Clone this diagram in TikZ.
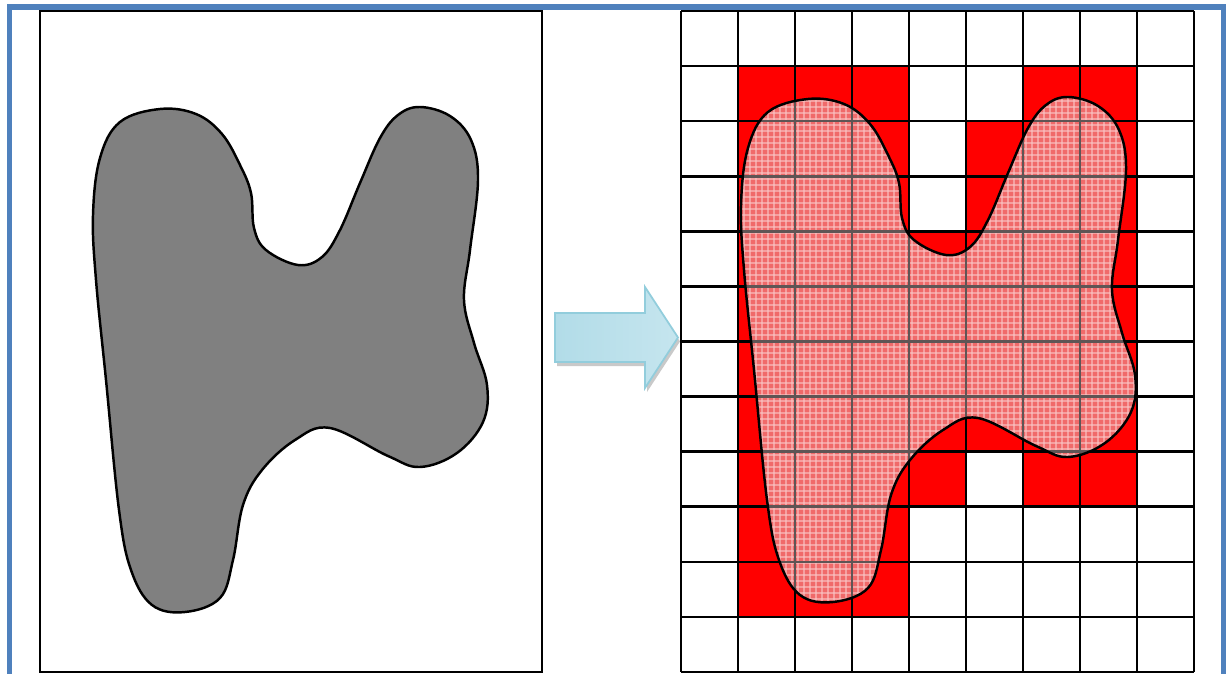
\documentclass[tikz,border=0pt]{standalone}
\usetikzlibrary{patterns.meta}

\definecolor{frameblue}{RGB}{79,129,189}
\definecolor{cellred}{RGB}{255,0,0}
\definecolor{blobpink}{RGB}{240,106,106}
\definecolor{plaid}{RGB}{249,190,190}
\definecolor{seeline}{RGB}{95,85,85}
\definecolor{arrowlight}{RGB}{226,243,248}
\definecolor{arrowdark}{RGB}{178,220,232}
\definecolor{arrowedge}{RGB}{146,205,220}

% fine plaid texture of the mapped shape
\tikzdeclarepattern{
  name=fineplaid,
  type=uncolored,
  bounding box={(0pt,0pt) and (1.7pt,1.7pt)},
  tile size={(1.7pt,1.7pt)},
  code={
    \pgfsetlinewidth{0.35pt}
    \pgfpathmoveto{\pgfpoint{0pt}{0.85pt}}\pgfpathlineto{\pgfpoint{1.7pt}{0.85pt}}
    \pgfpathmoveto{\pgfpoint{0.85pt}{0pt}}\pgfpathlineto{\pgfpoint{0.85pt}{1.7pt}}
    \pgfusepath{stroke}
  }
}

% outline of the shape (pixel units of the left panel)
\newcommand{\blobpath}{plot[smooth cycle, tension=0.62] coordinates {
  (160,109) (196,114) (222,134) (240,165) (251,193) (254,228)
  (266,250) (298,265) (322,257) (340,230) (360,183) (380,138)
  (398,115) (420,107) (450,116) (471,140) (478,180) (470,250)
  (464,300) (474,343) (487,385) (483,422) (457,453) (420,467)
  (388,456) (330,428) (295,440) (262,470) (243,505) (233,560)
  (220,598) (185,612) (152,605) (131,570) (119,510) (106,380)
  (96,280) (93,215) (100,158) (120,122)}}

\newcommand{\arrowpath}{(555,313) -- (645,313) -- (645,287) -- (678,337.5)
  -- (645,388) -- (645,362) -- (555,362) -- cycle}

\begin{document}
\begin{tikzpicture}[
x=0.01cm, y=-0.01cm,
panel/.style={draw, line width=0.6pt},
gridline/.style={line width=0.75pt},
cell/.style={fill=cellred},
blob/.style={draw, line width=0.7pt}
]
\useasboundingbox (0,0) rectangle (1228,673);

% Outer frame
\draw[frameblue, line width=1.6pt] (9.5,7) rectangle (1223.5,677);

% Original shape
\draw[panel] (40,11) rectangle (542,672);
\draw[blob, fill=gray] \blobpath;

% Arrow
\fill[gray!60, opacity=0.7, shift={(2,4)}] \arrowpath;
\shade[left color=arrowdark, middle color=arrowlight, right color=arrowdark!60!arrowlight,
  draw=arrowedge, line width=0.5pt] \arrowpath;

% Covered cells
\foreach \r/\cols in {1/{1,2,3,6,7}, 2/{1,2,3,5,6,7}, 3/{1,2,3,5,6,7},
    4/{1,...,7}, 5/{1,...,7}, 6/{1,...,7}, 7/{1,...,7},
    8/{1,2,3,4,6,7}, 9/{1,2,3}, 10/{1,2,3}}
  \foreach \c in \cols
    \fill[cell] ({681+57*\c},{11+55.083*\r}) rectangle ++(57,55.083);

% Grid
\foreach \c in {0,...,9}
  \draw[gridline] ({681+57*\c},11) -- ({681+57*\c},672);
\foreach \r in {0,...,12}
  \draw[gridline] (681,{11+55.083*\r}) -- (1194,{11+55.083*\r});

% Mapped shape
\begin{scope}[shift={(648,-10)}]
\fill[blobpink] \blobpath;
\fill[pattern=fineplaid, pattern color=plaid] \blobpath;
\end{scope}
\begin{scope}
\clip[shift={(648,-10)}] \blobpath;
\foreach \c in {0,...,9}
  \draw[gridline, seeline] ({681+57*\c},11) -- ({681+57*\c},672);
\foreach \r in {0,...,12}
  \draw[gridline, seeline] (681,{11+55.083*\r}) -- (1194,{11+55.083*\r});
\end{scope}
\draw[blob, shift={(648,-10)}] \blobpath;

\end{tikzpicture}
\end{document}
